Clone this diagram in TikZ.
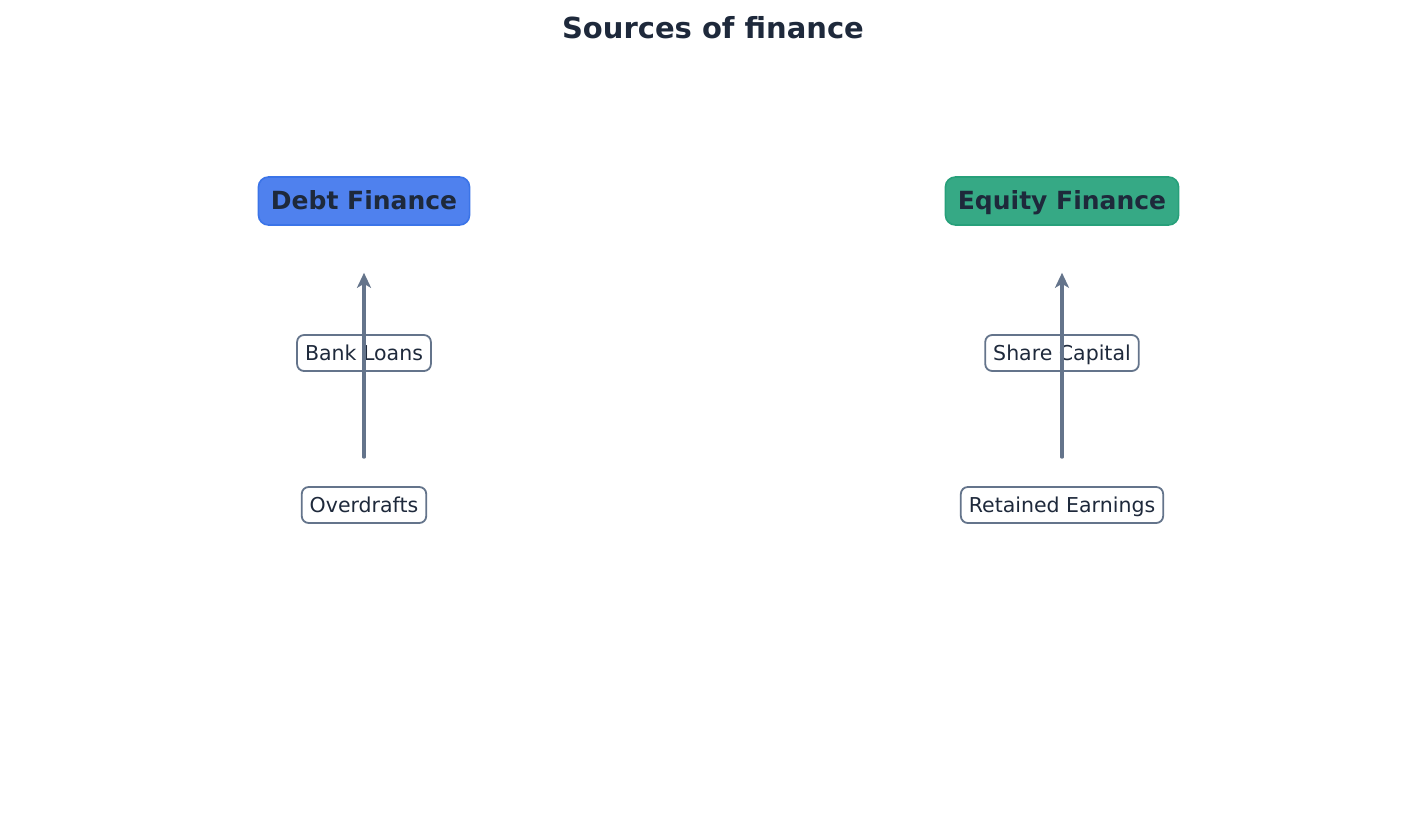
\documentclass[tikz,border=0pt]{standalone}
\usepackage{fontspec}
\setmainfont{DejaVu Sans}
\usetikzlibrary{arrows.meta}
\definecolor{txt}{HTML}{1E293B}
\definecolor{slate}{HTML}{64748B}
\definecolor{bluefill}{HTML}{4F81EE}
\definecolor{blueedge}{HTML}{3B74E8}
\definecolor{greenfill}{HTML}{36A985}
\definecolor{greenedge}{HTML}{27A07A}
\tikzset{
  topbox/.style={rounded corners=10pt, line width=1.6pt, text=txt, font=\fontsize{25}{30}\selectfont\bfseries, minimum height=48pt, inner xsep=12.5pt, inner ysep=0pt, text height=18pt, text depth=1pt},
  leaf/.style={rounded corners=7pt, draw=slate, fill=white, line width=1.8pt, text=txt, font=\fontsize{20.5}{24}\selectfont, minimum height=36pt, inner xsep=8pt, inner ysep=0pt, text height=15pt, text depth=1pt},
  flow/.style={draw=slate, line cap=round, -{Stealth[length=15pt,width=14pt,inset=4pt]}},
}
\begin{document}
\begin{tikzpicture}[x=1pt,y=-1pt]
\useasboundingbox (0,0) rectangle (1425,825);
\fill[white] (0,0) rectangle (1425,825);
\node[text=txt, font=\fontsize{29}{34}\selectfont\bfseries] (title) at (713,28) {Sources of finance};
\node[topbox, draw=blueedge, fill=bluefill] (debt) at (364,201) {Debt Finance};
\node[topbox, draw=greenedge, fill=greenfill] (equity) at (1062,201) {Equity Finance};
\node[leaf] (bank) at (364,353) {Bank Loans};
\node[leaf] (over) at (364,505) {Overdrafts};
\node[leaf] (share) at (1062,353) {Share Capital};
\node[leaf] (ret) at (1062,505) {Retained Earnings};
\draw[flow, line width=3.2pt, shorten <=29pt, shorten >=47pt] (over.north) -- (debt.south);
\draw[flow, line width=3.2pt, shorten <=29pt, shorten >=47pt] (ret.north) -- (equity.south);
\end{tikzpicture}
\end{document}
